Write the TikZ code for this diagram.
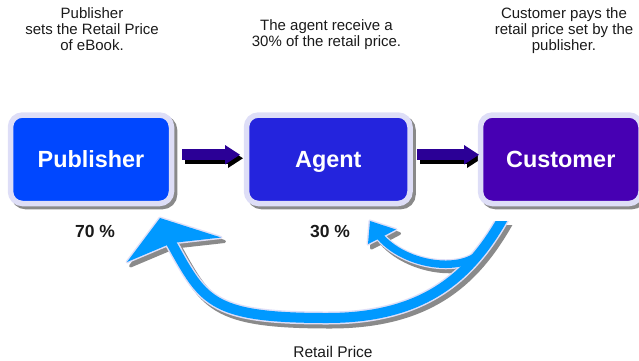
\documentclass[tikz,border=0pt]{standalone}
\usepackage{fontspec}
\setmainfont{Liberation Sans}
\usetikzlibrary{arrows.meta,calc,backgrounds}

\definecolor{pubblue}{HTML}{0047FF}
\definecolor{agentblue}{HTML}{2424DD}
\definecolor{custpurple}{HTML}{4700B3}
\definecolor{flowindigo}{HTML}{2B0096}
\definecolor{rim}{HTML}{DEDEF7}
\definecolor{shade}{HTML}{8A8A8A}
\definecolor{sky}{HTML}{0099FF}
\definecolor{ink}{HTML}{1A1A1A}

% payment curves
\newcommand\arcbig{(bigStart) .. controls (472,274) and (427,318) .. (bigLow) .. controls (207,318) and (203.3,299.9) .. (bigEnd)}
\newcommand\arcsmall{(smallStart) .. controls (474,277) and (404,268) .. (smallEnd)}
\newcommand\headbig{(bigTip) -- (bigR) -- (bigNotch) -- (bigL) -- cycle}
\newcommand\headsmall{(smallTip) -- (smallR) -- (smallNotch) -- (smallL) -- cycle}

\begin{document}
\begin{tikzpicture}[x=1pt,y=-1pt,
  box/.style={draw=rim, line width=5.5pt, rounded corners=12pt, text=white,
    font=\fontsize{23.4}{26}\selectfont\bfseries, text height=16.8pt, text depth=0pt,
    inner sep=0pt, outer sep=0pt, minimum height=88.5pt},
  boxshade/.style={fill=shade, draw=shade, line width=5.5pt, rounded corners=12pt,
    inner sep=0pt, outer sep=0pt, minimum height=88.5pt},
  flow/.style={line width=11pt, -{Triangle[length=15pt,width=19.5pt,line width=0pt]}},
  caption/.style={font=\fontsize{15}{16}\selectfont, text=ink, inner sep=0pt, anchor=base},
  share/.style={font=\fontsize{17.5}{20}\selectfont\bfseries, text=ink, inner sep=0pt, anchor=base},
  bigrim/.style={draw=rim, line width=13pt},
  bigband/.style={draw=sky, line width=10pt},
  smallrim/.style={draw=rim, line width=10pt},
  smallband/.style={draw=sky, line width=7.5pt},
  headrim/.style={draw=rim, fill=rim, line width=3pt, line join=round},
]
\useasboundingbox (0,0) rectangle (639,360);
\clip (0,0) rectangle (639,360);

% boxes
\node[box, fill=pubblue, minimum width=161pt] (pub) at (91,159.25) {Publisher};
\node[box, fill=agentblue, minimum width=163.5pt] (agent) at (328.25,159.25) {Agent};
\node[box, fill=custpurple, minimum width=160.5pt] (cust) at (560.75,159.25) {Customer};

% flow arrows between boxes
\draw[flow, flowindigo] ($(pub.east)+(10.5,-4.5)$) -- ($(agent.west)+(-6.5,-4.5)$);
\draw[flow, flowindigo] ($(agent.east)+(7,-4.5)$) -- ($(cust.west)+(-1.5,-4.5)$);

% points of the payment curves
\coordinate (bigStart) at (504.8,215);
\coordinate (bigLow) at (327,318);
\coordinate (bigEnd) at (169,239);
\coordinate (bigTip) at (160,218);
\coordinate (bigR) at (221,237.5);
\coordinate (bigNotch) at (172,243);
\coordinate (bigL) at (127,262);
\coordinate (smallStart) at (488,242);
\coordinate (smallEnd) at (378,234);
\coordinate (smallTip) at (370,221);
\coordinate (smallR) at (396,229.5);
\coordinate (smallNotch) at (380,238);
\coordinate (smallL) at (368,244);

% light rims of the curved arrows
\begin{scope}
  \clip (0,221.5) rectangle (639,360);
  \draw[bigrim] \arcbig;
\end{scope}
\draw[smallrim] \arcsmall;
\draw[headrim] \headbig;
\draw[headrim] \headsmall;

% blue bodies of the curved arrows
\begin{scope}
  \clip (0,221.5) rectangle (639,360);
  \draw[bigband] \arcbig;
\end{scope}
\draw[smallband] \arcsmall;
\fill[sky] \headbig;
\fill[sky] \headsmall;

% drop shadows
\begin{scope}[on background layer]
  \node[boxshade, minimum width=161pt] (pubshadow) at (94,162.25) {};
  \node[boxshade, minimum width=163.5pt] (agentshadow) at (331.25,162.25) {};
  \node[boxshade, minimum width=160.5pt] (custshadow) at (563.75,162.25) {};
  \begin{scope}[transform canvas={shift={(3pt,-3.5pt)}}]
    \draw[flow, shade] ($(pub.east)+(10.5,-4.5)$) -- ($(agent.west)+(-6.5,-4.5)$);
    \draw[flow, shade] ($(agent.east)+(7,-4.5)$) -- ($(cust.west)+(-1.5,-4.5)$);
  \end{scope}
  \begin{scope}[transform canvas={shift={(3.5pt,-4pt)}}]
    \begin{scope}
      \clip (0,221.5) rectangle (639,360);
      \draw[draw=shade, line width=13pt] \arcbig;
    \end{scope}
    \draw[draw=shade, line width=10pt] \arcsmall;
    \draw[draw=shade, fill=shade, line width=3pt, line join=round] \headbig;
    \draw[draw=shade, fill=shade, line width=3pt, line join=round] \headsmall;
  \end{scope}
\end{scope}

% texts
\node[caption] (pubA) at (92,18.3) {Publisher};
\node[caption] (pubB) at (92,34.3) {sets the Retail Price};
\node[caption] (pubC) at (92,50) {of eBook.};
\node[caption] (agA) at (326.5,30.7) {The agent receive a};
\node[caption] (agB) at (326.5,46.7) {30\% of the retail price.};
\node[caption] (cuA) at (564,18.3) {Customer pays the};
\node[caption] (cuB) at (564,34.3) {retail price set by the};
\node[caption] (cuC) at (564,50) {publisher.};

\node[share] (pubshare) at (95,237) {70 \%};
\node[share] (agentshare) at (330,237) {30 \%};
\node[caption, font=\fontsize{15.5}{17}\selectfont] (price) at (333,357.5) {Retail Price};
\end{tikzpicture}
\end{document}
